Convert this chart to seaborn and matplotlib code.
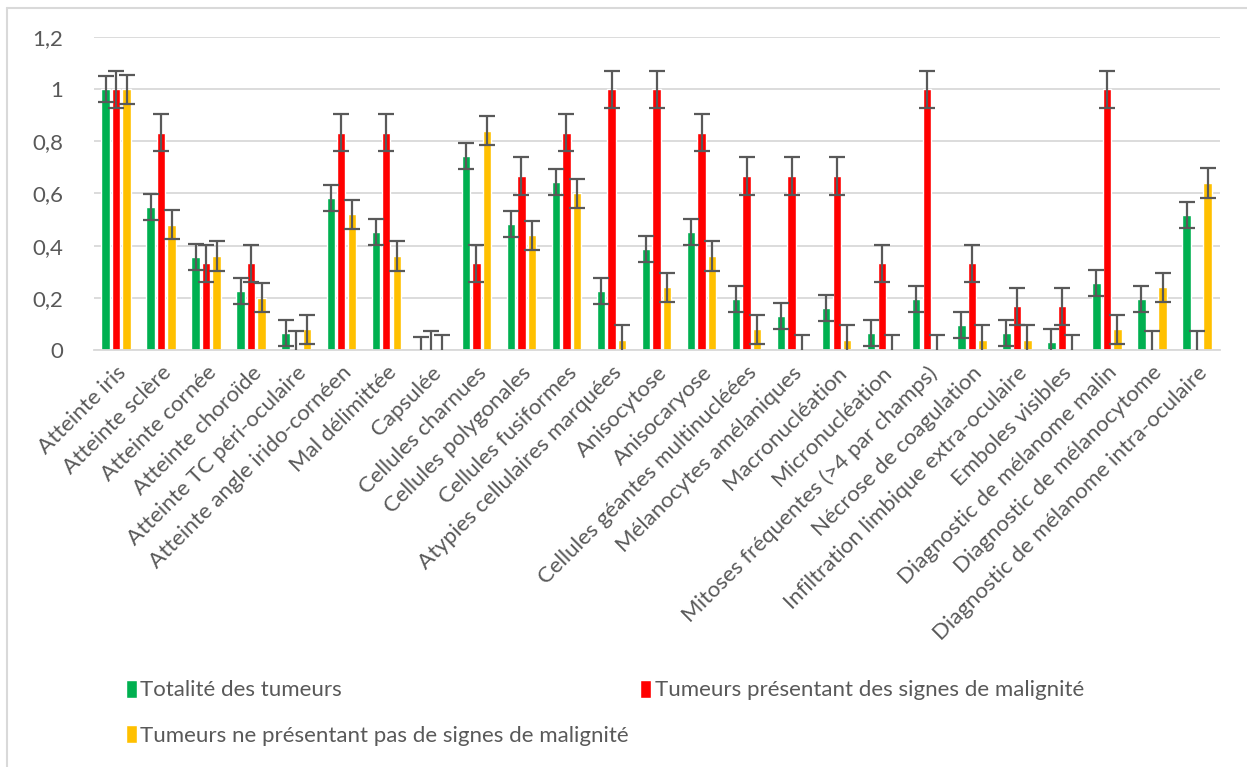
import numpy as np
import pandas as pd
import matplotlib
matplotlib.use("Agg")
import matplotlib.pyplot as plt
import seaborn as sns
from matplotlib.patches import Patch
from matplotlib.lines import Line2D

categories = [
    "Atteinte iris", "Atteinte sclère", "Atteinte cornée", "Atteinte choroïde",
    "Atteinte TC péri-oculaire", "Atteinte angle irido-cornéen", "Mal délimittée",
    "Capsulée", "Cellules charnues", "Cellules polygonales", "Cellules fusiformes",
    "Atypies cellulaires marquées", "Anisocytose", "Anisocaryose",
    "Cellules géantes multinucléées", "Mélanocytes amélaniques", "Macronucléation",
    "Micronucléation", "Mitoses fréquentes (>4 par champs)", "Nécrose de coagulation",
    "Infiltration limbique extra-oculaire", "Emboles visibles",
    "Diagnostic de mélanome malin", "Diagnostic de mélanocytome",
    "Diagnostic de mélanome intra-oculaire",
]
series_names = [
    "Totalité des tumeurs",
    "Tumeurs présentant des signes de malignité",
    "Tumeurs ne présentant pas de signes de malignité",
]
totalite = [1.0, 0.548, 0.355, 0.226, 0.065, 0.581, 0.452, 0.0, 0.742, 0.484, 0.645,
            0.226, 0.387, 0.452, 0.194, 0.129, 0.161, 0.065, 0.194, 0.097, 0.065,
            0.032, 0.258, 0.194, 0.516]
malins = [1.0, 0.833, 0.333, 0.333, 0.0, 0.833, 0.833, 0.0, 0.333, 0.667, 0.833,
          1.0, 1.0, 0.833, 0.667, 0.667, 0.667, 0.333, 1.0, 0.333, 0.167,
          0.167, 1.0, 0.0, 0.0]
benins = [1.0, 0.48, 0.36, 0.2, 0.08, 0.52, 0.36, 0.0, 0.84, 0.44, 0.6,
          0.04, 0.24, 0.36, 0.08, 0.0, 0.04, 0.0, 0.0, 0.04, 0.04,
          0.0, 0.08, 0.24, 0.64]
error_sizes = [0.05, 0.071, 0.056]
yticks = [0, 0.2, 0.4, 0.6, 0.8, 1.0, 1.2]
ytick_labels = ["0", "0,2", "0,4", "0,6", "0,8", "1", "1,2"]

colors = ["#00B050", "#FF0000", "#FFC000"]
text_color = "#595959"
grid_color = "#D9D9D9"

df = pd.DataFrame({
    "categorie": categories * 3,
    "serie": [series_names[0]] * len(categories) + [series_names[1]] * len(categories)
             + [series_names[2]] * len(categories),
    "valeur": totalite + malins + benins,
})

sns.set_theme(style="white")
plt.rcParams["font.family"] = ["Lato", "DejaVu Sans"]

fig = plt.figure(figsize=(12.47, 7.67), dpi=100)
ax = fig.add_axes([0.075, 0.5437, 0.903, 0.4081])

sns.barplot(data=df, x="categorie", y="valeur", hue="serie", order=categories,
            hue_order=series_names, palette=colors, width=0.7, gap=0.2,
            errorbar=None, saturation=1, ax=ax, legend=False)

for cont, err in zip(ax.containers, error_sizes):
    xs = [b.get_x() + b.get_width() / 2 for b in cont]
    hs = [b.get_height() for b in cont]
    ax.errorbar(xs, hs, yerr=err, fmt="none", ecolor="#595959", elinewidth=1.6,
                capsize=5.5, capthick=1.6, zorder=5, clip_on=True)

ax.set_ylim(0, 1.2)
ax.set_xlim(-0.5, len(categories) - 0.5)
ax.set_yticks(yticks)
ax.set_yticklabels(ytick_labels, fontsize=16, color=text_color)
ax.yaxis.grid(True, color=grid_color, linewidth=1.3)
ax.set_axisbelow(True)
ax.set_xlabel("")
ax.set_ylabel("")
for s in ["top", "right", "left"]:
    ax.spines[s].set_visible(False)
ax.spines["bottom"].set_color(grid_color)
ax.spines["bottom"].set_linewidth(1.3)
ax.tick_params(axis="both", length=0)
ax.tick_params(axis="y", pad=22)
ax.tick_params(axis="x", pad=9)
ax.set_xticks(range(len(categories)))
ax.set_xticklabels(categories, rotation=45, ha="right", va="top",
                   rotation_mode="anchor", fontsize=16, color=text_color)

handles = [Patch(facecolor=colors[0]), Patch(facecolor=colors[2]), Patch(facecolor=colors[1])]
labels = [series_names[0], series_names[2], series_names[1]]
leg = fig.legend(handles, labels, loc="upper left", bbox_to_anchor=(0.101, 0.114),
                 ncol=2, frameon=False, fontsize=16, handlelength=0.5, handleheight=0.9,
                 handletextpad=0.15, columnspacing=0.5, labelspacing=1.1, borderpad=0,
                 borderaxespad=0)
for t in leg.get_texts():
    t.set_color(text_color)

fig.add_artist(Line2D([7 / 1247, 7 / 1247], [0, 1 - 8 / 767], transform=fig.transFigure,
                      color=grid_color, linewidth=1.5))
fig.add_artist(Line2D([7 / 1247, 1], [1 - 8 / 767, 1 - 8 / 767], transform=fig.transFigure,
                      color=grid_color, linewidth=1.5))

fig.savefig("out.png", dpi=100)
